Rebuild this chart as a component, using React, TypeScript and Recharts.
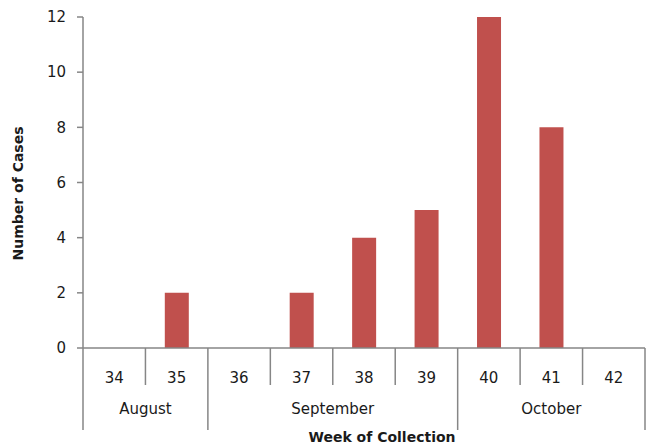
import React from 'react';
import { BarChart, Bar, XAxis, YAxis, Label } from 'recharts';

const weeks = ['34', '35', '36', '37', '38', '39', '40', '41', '42'];
const cases = [0, 2, 0, 2, 4, 5, 12, 8, 0];
const months = ['August', 'September', 'October'];
const monthSpans = [2, 4, 3];
const yTicks = [0, 2, 4, 6, 8, 10, 12];

const data = weeks.map((w, i) => ({ week: w, cases: cases[i] }));

const monthStarts: number[] = [];
{
  let acc = 0;
  monthSpans.forEach((s) => {
    monthStarts.push(acc);
    acc += s;
  });
}

const FONT = 'DejaVu Sans, sans-serif';
const AXIS = '#868686';
const TEXT = '#1a1a1a';

const WeekTick = (props: any) => {
  const { x, y, payload, index } = props;
  const half = payload && payload.offset ? payload.offset : 0;
  const left = x - half;
  const mi = monthStarts.indexOf(index);
  const isLast = index === weeks.length - 1;
  return (
    <g>
      <line x1={left} y1={y} x2={left} y2={y + (mi >= 0 ? 82 : 37)} stroke={AXIS} strokeWidth={1.5} />
      {isLast && <line x1={x + half} y1={y} x2={x + half} y2={y + 82} stroke={AXIS} strokeWidth={1.5} />}
      <text x={x} y={y + 35} textAnchor="middle" fontFamily={FONT} fontSize={15} fill={TEXT}>
        {payload.value}
      </text>
      {mi >= 0 && (
        <text x={left + monthSpans[mi] * half} y={y + 66} textAnchor="middle" fontFamily={FONT} fontSize={15} fill={TEXT}>
          {months[mi]}
        </text>
      )}
    </g>
  );
};

export default function App() {
  return (
    <div style={{ position: 'absolute', left: 0, top: 0, width: 649, height: 445, background: '#fff' }}>
      <BarChart
        width={649}
        height={445}
        data={data}
        margin={{ top: 17, right: 4, bottom: 0, left: 13 }}
        barCategoryGap="31%"
      >
        <XAxis
          dataKey="week"
          height={97}
          interval={0}
          tickSize={0}
          tickMargin={0}
          tickLine={false}
          tick={<WeekTick />}
          axisLine={{ stroke: AXIS, strokeWidth: 1.5 }}
        >
          <Label
            content={(p: any) => {
              const vb = p.viewBox;
              return (
                <text
                  x={vb.x + vb.width / 2 + 18}
                  y={vb.y + vb.height - 3}
                  textAnchor="middle"
                  fontFamily={FONT}
                  fontSize={14}
                  fontWeight="bold"
                  fill={TEXT}
                >
                  Week of Collection
                </text>
              );
            }}
          />
        </XAxis>
        <YAxis
          width={70}
          domain={[0, 12]}
          ticks={yTicks}
          interval={0}
          tickSize={6}
          tickMargin={11}
          tick={{ fontFamily: FONT, fontSize: 15, fill: TEXT }}
          tickLine={{ stroke: AXIS, strokeWidth: 1.5 }}
          axisLine={{ stroke: AXIS, strokeWidth: 1.5 }}
        >
          <Label
            content={(p: any) => {
              const vb = p.viewBox;
              const cx = vb.x + 5;
              const cy = vb.y + vb.height / 2 + 11;
              return (
                <text
                  x={cx}
                  y={cy}
                  transform={`rotate(-90, ${cx}, ${cy})`}
                  textAnchor="middle"
                  dominantBaseline="central"
                  fontFamily={FONT}
                  fontSize={14}
                  fontWeight="bold"
                  fill={TEXT}
                >
                  Number of Cases
                </text>
              );
            }}
          />
        </YAxis>
        <Bar dataKey="cases" fill="#C0504D" isAnimationActive={false} />
      </BarChart>
    </div>
  );
}
